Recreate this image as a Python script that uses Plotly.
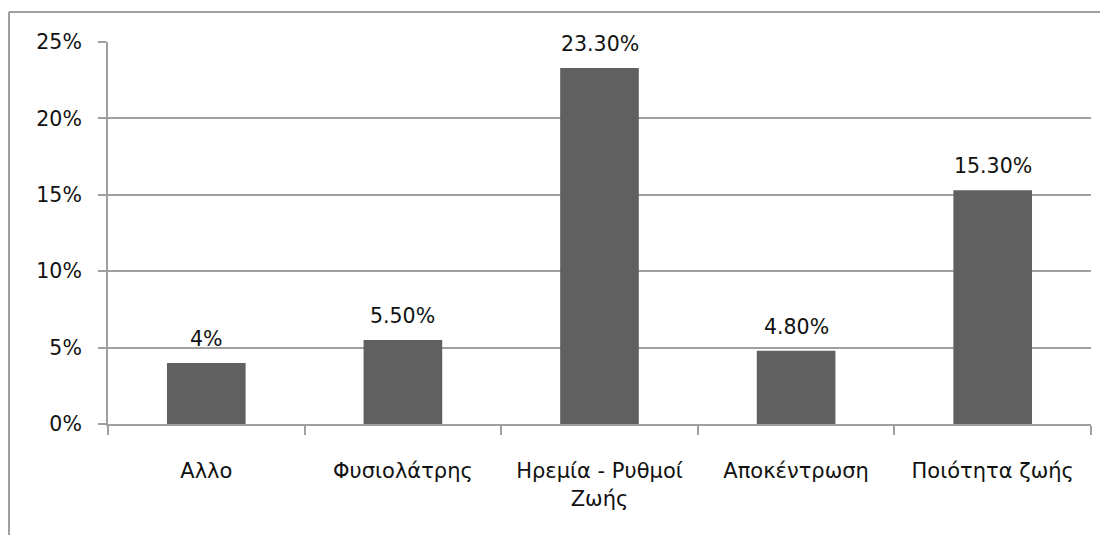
import plotly.graph_objects as go

categories = ["Αλλο", "Φυσιολάτρης", "Ηρεμία - Ρυθμοί<br>Ζωής", "Αποκέντρωση", "Ποιότητα ζωής"]
values = [4.0, 5.5, 23.3, 4.8, 15.3]
value_labels = ["4%", "5.50%", "23.30%", "4.80%", "15.30%"]
y_ticks = [0, 5, 10, 15, 20, 25]

# page has an 8px body margin; figure origin sits at (8, 8)
W, H = 1108, 527
L, R, T, B = 100, 25, 34, 111
FONT = "DejaVu Sans, Open Sans, sans-serif"
FS = 20.5
GRID = "#9f9f9f"

fig = go.Figure()
fig.add_trace(go.Bar(
    x=categories, y=values, width=0.4,
    marker=dict(color="#606060", line=dict(width=0)),
    hoverinfo="skip",
))

for c, v, t in zip(categories, values, value_labels):
    fig.add_annotation(x=c, y=v, text=t, showarrow=False, yshift=24,
                       font=dict(family=FONT, size=FS, color="#111111"))

pw, ph = W - L - R, H - T - B
# chart frame (top and left edges)
fx = (1 - L) / pw
fy = (H - B - 4) / ph
fig.add_shape(type="line", xref="paper", yref="paper", x0=fx, x1=2, y0=fy, y1=fy,
              line=dict(color=GRID, width=2))
fig.add_shape(type="line", xref="paper", yref="paper", x0=fx, x1=fx, y0=fy, y1=-2,
              line=dict(color=GRID, width=2))

fig.update_layout(
    width=W, height=H,
    margin=dict(l=L, r=R, t=T, b=B, autoexpand=False),
    paper_bgcolor="white", plot_bgcolor="white",
    showlegend=False, bargap=0.6,
    font=dict(family=FONT, size=FS, color="#111111"),
)
fig.update_xaxes(
    type="category", showline=True, linecolor=GRID, linewidth=2,
    ticks="outside", tickson="boundaries", ticklen=9, tickcolor=GRID, tickwidth=2,
    showgrid=False, ticklabelstandoff=27,
    tickfont=dict(family=FONT, size=21, color="#111111"),
)
fig.update_yaxes(
    range=[0, 25], tickvals=y_ticks, ticktext=[f"{v}%" for v in y_ticks],
    showline=True, linecolor=GRID, linewidth=2,
    ticks="outside", ticklen=8, tickcolor=GRID, tickwidth=2,
    showgrid=True, gridcolor=GRID, gridwidth=2, zeroline=False,
    ticklabelstandoff=12,
    tickfont=dict(family=FONT, size=FS, color="#111111"),
)

fig.write_html("out.html")
